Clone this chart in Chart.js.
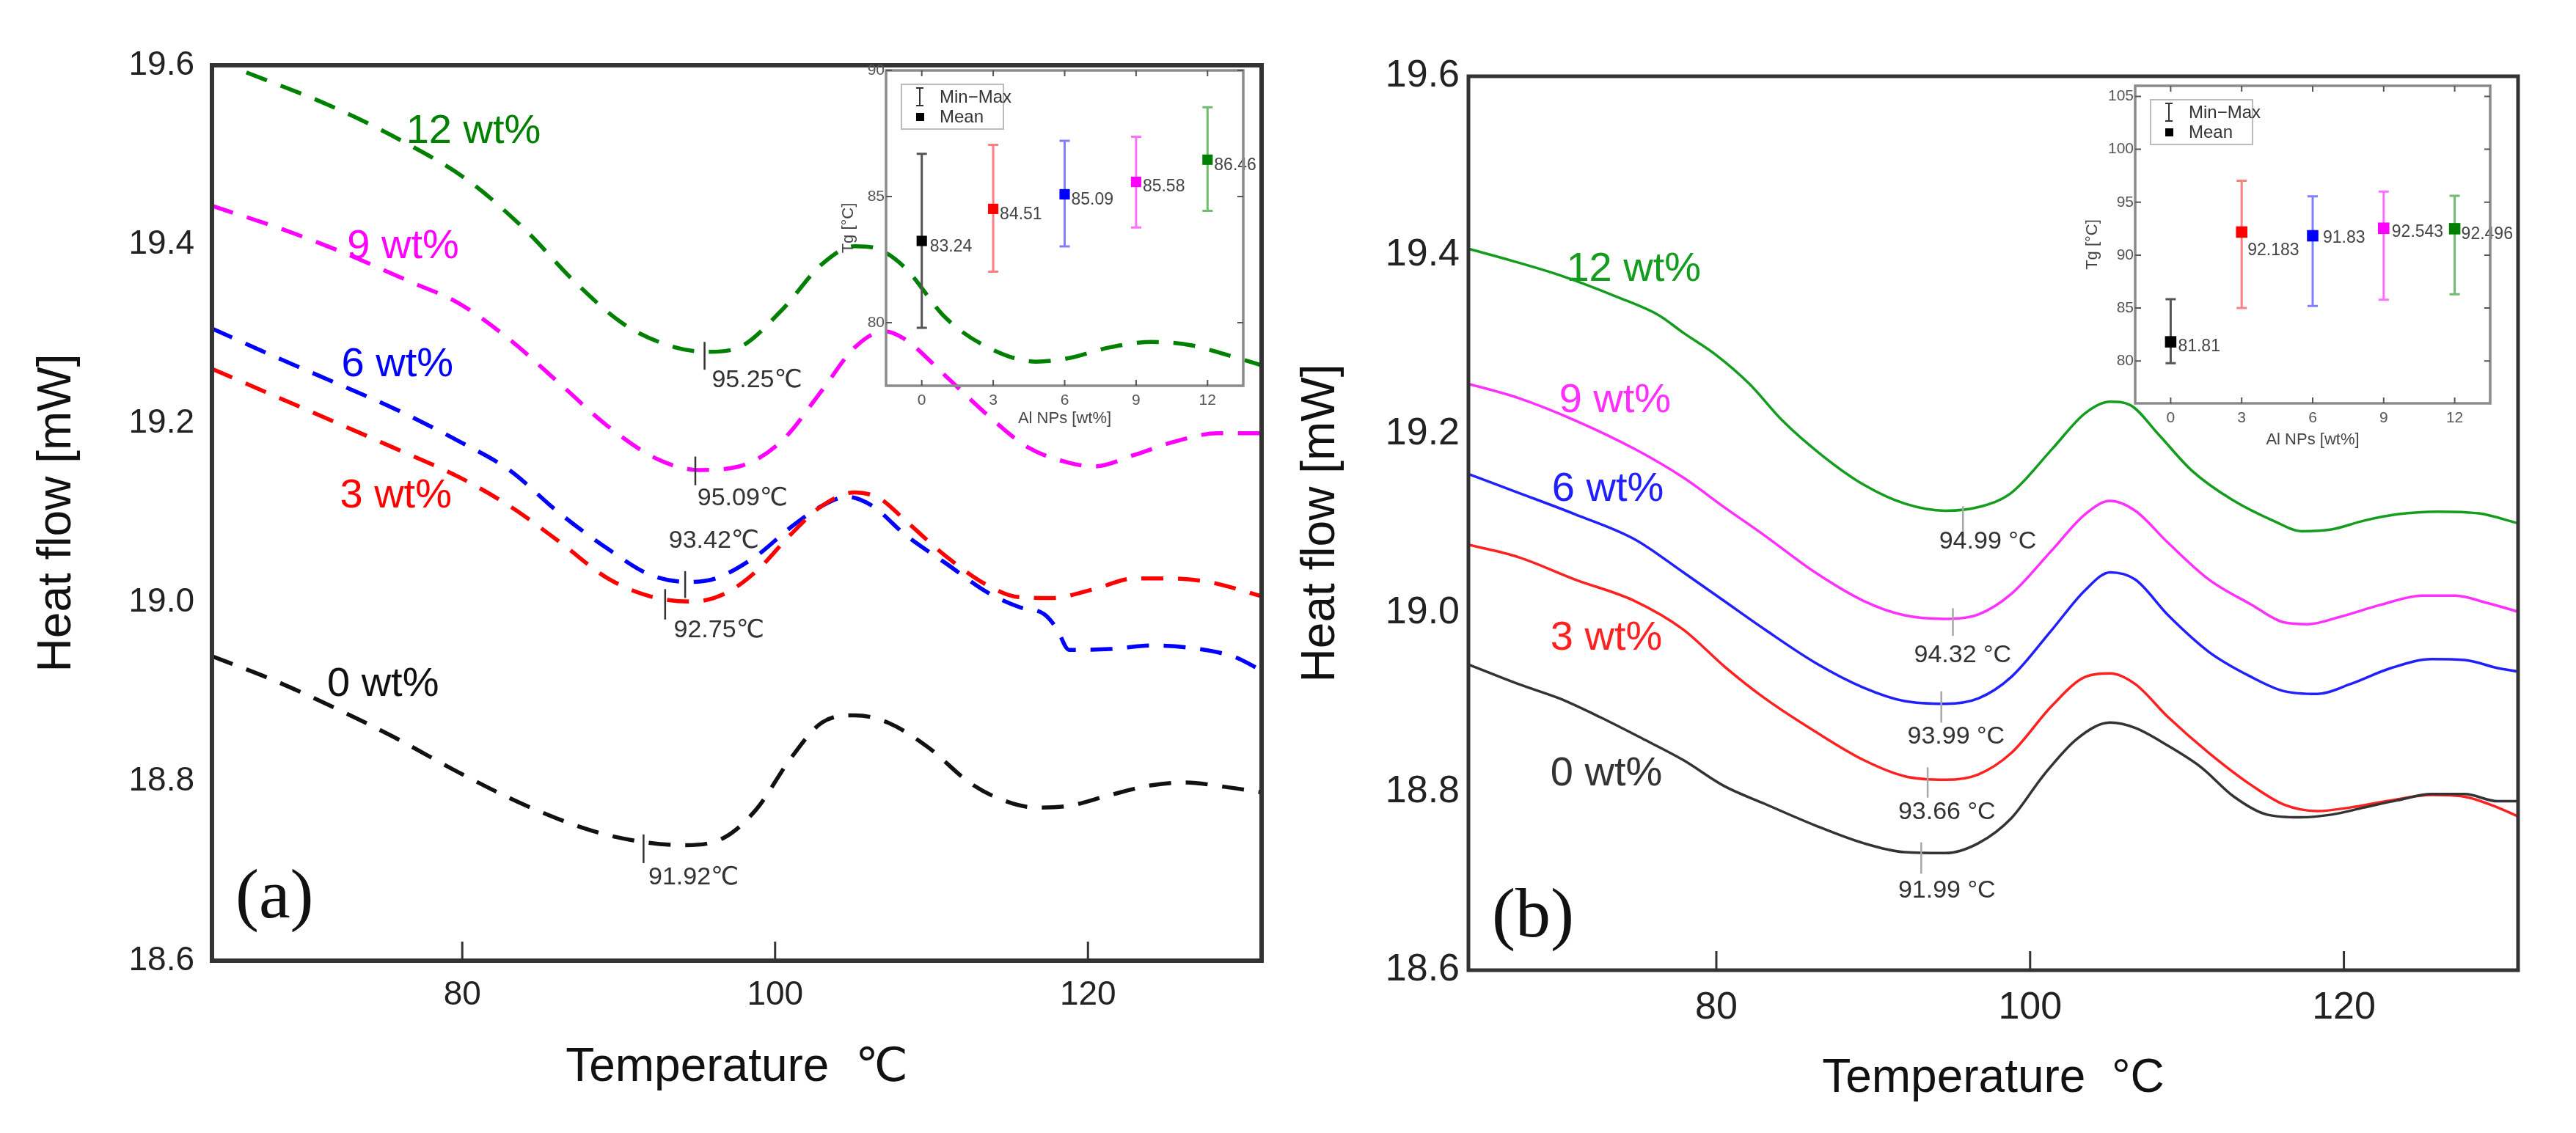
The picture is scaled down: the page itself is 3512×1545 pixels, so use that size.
<!DOCTYPE html>
<html>
<head>
<meta charset="utf-8">
<script src="https://cdn.jsdelivr.net/npm/chart.js@4.4.1/dist/chart.umd.min.js"></script>
<style>
  html, body { margin: 0; padding: 0; background: #fff; }
  #stage { position: relative; width: 3512px; height: 1545px; overflow: hidden; }
  canvas { position: absolute; }
</style>
</head>
<body>
<div id="stage">
  <canvas id="mainA" width="1756" height="1545" style="left:0;top:0"></canvas>
  <canvas id="insetA" width="600" height="540" style="left:1140px;top:60px"></canvas>
  <canvas id="mainB" width="1756" height="1545" style="left:1756px;top:0"></canvas>
  <canvas id="insetB" width="640" height="560" style="left:2840px;top:80px"></canvas>
</div>
<script>
const FONT = "'Liberation Sans', 'DejaVu Sans', Arial, sans-serif"

// ---- shared axis values ----
const seriesNames = ["0 wt%", "3 wt%", "6 wt%", "9 wt%", "12 wt%"]
const tempTicks = [80, 100, 120]
const heatTicks = [18.6, 18.8, 19.0, 19.2, 19.4, 19.6]
const insetCats = [0, 3, 6, 9, 12]
const insetTicksA = [80, 85, 90]
const insetTicksB = [80, 85, 90, 95, 100, 105]

// ---- panel (a): dashed DSC curves ----
const a0T = [64, 67.7, 71.4, 75.6, 79.8, 84.1, 88.3, 91.4, 94.1, 96.7, 98.8, 101, 103, 105.1, 107.2, 109.8, 112.5, 114.6, 116.7, 118.8, 121.4, 124.1, 126.2, 128.8, 131.1]
const a0H = [18.94, 18.915, 18.886, 18.85, 18.81, 18.773, 18.745, 18.733, 18.729, 18.737, 18.769, 18.826, 18.866, 18.874, 18.866, 18.838, 18.798, 18.779, 18.771, 18.773, 18.785, 18.796, 18.799, 18.794, 18.788]
const a3T = [64, 67.7, 71.4, 75.6, 79.8, 83, 86.2, 89.3, 92, 94.7, 96.8, 98.8, 101, 103, 105.1, 106.7, 108.3, 110.9, 113.6, 115.6, 117.7, 120.4, 123, 125.1, 127.7, 131.1]
const a3H = [19.261, 19.233, 19.205, 19.173, 19.14, 19.108, 19.068, 19.027, 19.007, 19.001, 19.01, 19.035, 19.076, 19.108, 19.123, 19.116, 19.092, 19.052, 19.019, 19.006, 19.005, 19.015, 19.027, 19.027, 19.023, 19.007]
const a6T = [64, 67.7, 71.4, 75.6, 79.8, 83, 86.2, 89.3, 92, 94.4, 96.2, 98.8, 101, 103, 104.6, 106.2, 108.3, 110.9, 113.6, 115.6, 117.2, 118, 118.8, 121.4, 124.1, 126.7, 129.4, 131.1]
const a6H = [19.306, 19.277, 19.249, 19.217, 19.18, 19.148, 19.1, 19.06, 19.031, 19.023, 19.027, 19.052, 19.084, 19.108, 19.118, 19.108, 19.076, 19.044, 19.011, 18.995, 18.987, 18.971, 18.947, 18.948, 18.952, 18.949, 18.939, 18.924]
const a9T = [64, 68.8, 72.5, 76.7, 79.8, 83, 86.2, 89.3, 92.5, 95.1, 97.7, 100.4, 103, 105.1, 107, 108.3, 110.9, 113.6, 116.2, 118.8, 120.4, 123, 125.6, 128.3, 131.1]
const a9H = [19.443, 19.415, 19.39, 19.358, 19.334, 19.294, 19.245, 19.197, 19.16, 19.148, 19.152, 19.18, 19.237, 19.285, 19.303, 19.294, 19.253, 19.209, 19.173, 19.156, 19.152, 19.165, 19.18, 19.189, 19.189]
const a12T = [66.2, 71.4, 76.2, 80.4, 84.1, 87.2, 90.4, 93.6, 95.7, 97.7, 100.4, 103, 105.1, 106.7, 108.3, 110.9, 113.6, 116.7, 118.8, 121.4, 124.1, 126.7, 128.8, 131.1]
const a12H = [19.592, 19.556, 19.515, 19.471, 19.415, 19.358, 19.31, 19.285, 19.28, 19.285, 19.326, 19.378, 19.398, 19.394, 19.374, 19.318, 19.285, 19.269, 19.273, 19.285, 19.291, 19.287, 19.277, 19.265]

// Tg markers (a): x, top, bottom of the short tick; label text and anchor
const tgMarkA = [[91.59, 18.741, 18.709], [92.97, 19.015, 18.981], [94.25, 19.035, 19.005], [94.9, 19.163, 19.131], [95.49, 19.291, 19.26]]
const tgTextA = ["91.92℃", "92.75℃", "93.42℃", "95.09℃", "95.25℃"]
const tgTextPosA = [[91.9, 18.693], [93.52, 18.969], [93.2, 19.069], [95.03, 19.116], [95.95, 19.248]]
const nameTextPosA = [[71.36, 18.908], [72.18, 19.119], [72.28, 19.265], [72.64, 19.397], [76.41, 19.526]]

// ---- panel (b): solid DSC curves ----
const b0T = [64.2, 67.4, 70, 72.6, 75.3, 77.9, 80.5, 83.1, 86.3, 89.4, 92, 94.6, 96.7, 98.8, 100.9, 103, 105.1, 106.7, 108.8, 110.9, 113, 115.1, 117.2, 119.2, 121.3, 123.4, 125.6, 127.7, 129.8, 131.1]
const b0H = [18.942, 18.92, 18.904, 18.883, 18.859, 18.835, 18.806, 18.786, 18.762, 18.742, 18.732, 18.731, 18.742, 18.77, 18.819, 18.859, 18.877, 18.871, 18.851, 18.827, 18.794, 18.774, 18.771, 18.774, 18.782, 18.79, 18.797, 18.797, 18.789, 18.789]
const b3T = [64.2, 67.4, 71, 74.8, 77.9, 80.5, 83.1, 86.3, 89.4, 92, 94.6, 96.7, 98.8, 101.4, 103.5, 105.1, 106.7, 108.8, 111.4, 114.1, 116.2, 118.3, 120.4, 123, 125.6, 127.7, 129.8, 131.1]
const b3H = [19.076, 19.062, 19.037, 19.013, 18.981, 18.94, 18.904, 18.867, 18.835, 18.817, 18.813, 18.819, 18.843, 18.896, 18.928, 18.932, 18.92, 18.883, 18.843, 18.807, 18.785, 18.778, 18.782, 18.79, 18.796, 18.794, 18.782, 18.772]
const b6T = [64.2, 67.4, 71, 74.8, 77.9, 80.5, 83.1, 86.3, 89.4, 92, 94.6, 96.7, 98.8, 101.4, 103.5, 105.1, 106.7, 108.8, 111.4, 114.1, 116.2, 118.3, 120.4, 123, 125.6, 127.7, 129.8, 131.1]
const b6H = [19.155, 19.134, 19.11, 19.082, 19.045, 19.013, 18.981, 18.944, 18.916, 18.901, 18.898, 18.904, 18.928, 18.981, 19.025, 19.045, 19.037, 18.997, 18.956, 18.928, 18.912, 18.909, 18.92, 18.938, 18.948, 18.947, 18.938, 18.934]
const b9T = [64.2, 67.4, 71, 74.8, 77.9, 80.5, 83.1, 86.3, 89.4, 92, 94.6, 96.7, 98.8, 101.4, 103.5, 105.1, 106.7, 108.8, 111.4, 114.1, 116.2, 117.7, 119.7, 122.4, 125, 127.1, 129.1, 131.1]
const b9H = [19.256, 19.24, 19.215, 19.183, 19.151, 19.118, 19.086, 19.045, 19.013, 18.997, 18.993, 18.998, 19.021, 19.07, 19.11, 19.125, 19.114, 19.078, 19.037, 19.009, 18.989, 18.987, 18.995, 19.009, 19.019, 19.019, 19.011, 19.001]
const b12T = [64.2, 66.9, 70.1, 73.7, 76.3, 77.9, 80, 82.1, 84.2, 86.8, 89.4, 92, 94.6, 96.7, 98.8, 101.4, 103.5, 105.1, 106.4, 108.2, 110.3, 112.9, 115.6, 117.3, 119.2, 121.3, 123.4, 126, 128.6, 131.1]
const b12H = [19.407, 19.394, 19.377, 19.353, 19.333, 19.313, 19.288, 19.256, 19.215, 19.175, 19.143, 19.122, 19.114, 19.118, 19.134, 19.183, 19.223, 19.236, 19.232, 19.199, 19.159, 19.126, 19.102, 19.091, 19.093, 19.103, 19.11, 19.113, 19.111, 19.1]

const tgMarkB = [[93.06, 18.743, 18.708], [93.47, 18.827, 18.793], [94.34, 18.912, 18.877], [95.08, 19.005, 18.974], [95.72, 19.119, 19.084]]
const tgTextB = ["91.99 °C", "93.66 °C", "93.99 °C", "94.32 °C", "94.99 °C"]
const tgTextPosB = [[91.59, 18.689], [91.59, 18.777], [92.18, 18.861], [92.6, 18.952], [94.2, 19.079]]
const nameTextPosB = [[69.43, 18.819], [69.43, 18.971], [69.52, 19.138], [69.98, 19.237], [70.44, 19.384]]

// ---- insets: Tg vs Al NPs ----
const tgMeanA = [83.24, 84.51, 85.09, 85.58, 86.46]
const tgMinA = [79.8, 82.02, 83.02, 83.77, 84.43]
const tgMaxA = [86.69, 87.05, 87.21, 87.37, 88.54]
const tgMeanB = [81.81, 92.183, 91.83, 92.543, 92.496]
const tgMinB = [79.8, 85.0, 85.2, 85.78, 86.3]
const tgMaxB = [85.84, 97.02, 95.56, 96.0, 95.6]

const colorsA = ["#111111", "#ff0000", "#0000ff", "#ff00ff", "#008000"]
const colorsB = ["#333333", "#ff2020", "#2020ff", "#ff30ff", "#149c1e"]
const meanColors = ["#000000", "#ff0000", "#0000ff", "#ff00ff", "#008000"]
const barColors = ["#555555", "#ff8080", "#8080ff", "#ff70ff", "#70bb70"]

function mainChart(id, p) {
    const decor = {
        id: "decor",
        afterDatasetsDraw(chart) {
            const { ctx, chartArea: a } = chart
            const x = chart.scales.x, y = chart.scales.y
            ctx.save()
            // Tg tick marks and labels
            ctx.strokeStyle = p.markColor
            ctx.lineWidth = 2.5
            p.marks.forEach((m) => {
                const px = x.getPixelForValue(m[0])
                ctx.beginPath()
                ctx.moveTo(px, y.getPixelForValue(m[1]))
                ctx.lineTo(px, y.getPixelForValue(m[2]))
                ctx.stroke()
            })
            ctx.fillStyle = "#333"
            ctx.font = "34px " + FONT
            ctx.textAlign = "left"
            ctx.textBaseline = "middle"
            p.marks.forEach((m, i) => {
                ctx.fillText(p.tgText[i], x.getPixelForValue(p.tgPos[i][0]), y.getPixelForValue(p.tgPos[i][1]))
            })
            // series names
            ctx.font = "56px " + FONT
            seriesNames.forEach((n, i) => {
                ctx.fillStyle = p.colors[i]
                ctx.fillText(n, x.getPixelForValue(p.namePos[i][0]), y.getPixelForValue(p.namePos[i][1]))
            })
            // panel letter
            ctx.fillStyle = "#111"
            ctx.font = "96px 'Liberation Serif', 'DejaVu Serif', serif"
            ctx.fillText(p.letter, a.left + 32, a.bottom - p.letterDy)
            // frame and inward ticks
            ctx.strokeStyle = "#333"
            ctx.lineWidth = p.frame
            ctx.strokeRect(a.left, a.top, a.right - a.left, a.bottom - a.top)
            ctx.lineWidth = 3
            tempTicks.forEach((v) => {
                const px = x.getPixelForValue(v)
                ctx.beginPath()
                ctx.moveTo(px, a.bottom)
                ctx.lineTo(px, a.bottom - 26)
                ctx.stroke()
            })
            ctx.restore()
        },
    }

    return new Chart(document.getElementById(id), {
        type: "line",
        data: {
            datasets: p.series.map((s, i) => ({
                data: s[0].map((t, k) => ({ x: t, y: s[1][k] })),
                borderColor: p.colors[i],
                borderWidth: p.lineWidth,
                borderDash: p.dash,
                pointRadius: 0,
                cubicInterpolationMode: "monotone",
                fill: false,
            })),
        },
        options: {
            responsive: false,
            animation: false,
            devicePixelRatio: 1,
            layout: { padding: { left: 0, top: p.top, right: p.right, bottom: 0 } },
            plugins: { legend: { display: false }, tooltip: { enabled: false } },
            scales: {
                x: {
                    type: "linear",
                    min: p.xMin,
                    max: p.xMax,
                    afterBuildTicks: (s) => { s.ticks = tempTicks.map((v) => ({ value: v })) },
                    afterFit: (s) => { s.height = p.xHeight },
                    grid: { display: false, drawTicks: false },
                    border: { display: false },
                    ticks: { font: { size: p.tickSize, family: FONT }, color: "#222", padding: 20, maxRotation: 0 },
                    title: { display: true, text: p.xTitle, font: { size: 64, family: FONT }, color: "#111", padding: { top: 0, bottom: p.xTitlePad } },
                },
                y: {
                    type: "linear",
                    min: 18.6,
                    max: 19.6,
                    afterBuildTicks: (s) => { s.ticks = heatTicks.map((v) => ({ value: v })) },
                    afterFit: (s) => { s.width = p.yWidth },
                    grid: { display: false, drawTicks: false },
                    border: { display: false },
                    ticks: { font: { size: p.tickSize, family: FONT }, color: "#222", padding: p.yTickPad, callback: (v) => v.toFixed(1) },
                    title: { display: true, text: "Heat flow [mW]", font: { size: 64, family: FONT }, color: "#111", padding: { top: p.yTitlePad, bottom: 0 } },
                },
            },
        },
        plugins: [decor],
    })
}

function insetChart(id, p) {
    const extras = {
        id: "extras",
        beforeDatasetsDraw(chart) {
            const { ctx } = chart
            const x = chart.scales.x, y = chart.scales.y
            ctx.save()
            ctx.lineWidth = 3
            insetCats.forEach((c, i) => {
                const px = x.getPixelForValue(c)
                const y1 = y.getPixelForValue(p.max[i])
                const y2 = y.getPixelForValue(p.min[i])
                ctx.strokeStyle = barColors[i]
                ctx.beginPath()
                ctx.moveTo(px, y1); ctx.lineTo(px, y2)
                ctx.moveTo(px - 7, y1); ctx.lineTo(px + 7, y1)
                ctx.moveTo(px - 7, y2); ctx.lineTo(px + 7, y2)
                ctx.stroke()
            })
            ctx.restore()
        },
        afterDatasetsDraw(chart) {
            const { ctx, chartArea: a } = chart
            const x = chart.scales.x, y = chart.scales.y
            ctx.save()
            // value labels
            ctx.fillStyle = "#444"
            ctx.font = "23px " + FONT
            ctx.textAlign = "left"
            ctx.textBaseline = "middle"
            insetCats.forEach((c, i) => {
                ctx.fillText(String(p.mean[i]), x.getPixelForValue(c) + p.labelOff[i][0], y.getPixelForValue(p.mean[i]) + p.labelOff[i][1])
            })
            // frame with inward ticks on all sides
            ctx.strokeStyle = "#8a8a8a"
            ctx.lineWidth = 3.5
            ctx.strokeRect(a.left, a.top, a.right - a.left, a.bottom - a.top)
            ctx.strokeStyle = "#555"
            ctx.lineWidth = 2
            ctx.beginPath()
            insetCats.forEach((c) => {
                const px = x.getPixelForValue(c)
                ctx.moveTo(px, a.bottom); ctx.lineTo(px, a.bottom - 8)
                ctx.moveTo(px, a.top); ctx.lineTo(px, a.top + 8)
            })
            p.yTicks.forEach((v) => {
                const py = y.getPixelForValue(v)
                ctx.moveTo(a.left, py); ctx.lineTo(a.left + 8, py)
                ctx.moveTo(a.right, py); ctx.lineTo(a.right - 8, py)
            })
            ctx.stroke()
            // legend
            const lx = a.left + 21, ly = a.top + 19
            ctx.fillStyle = "#fff"
            ctx.fillRect(lx, ly, 139, 61)
            ctx.strokeStyle = "#bbb"
            ctx.lineWidth = 2
            ctx.strokeRect(lx, ly, 139, 61)
            ctx.strokeStyle = "#333"
            ctx.beginPath()
            ctx.moveTo(lx + 25, ly + 5); ctx.lineTo(lx + 25, ly + 29)
            ctx.moveTo(lx + 20, ly + 5); ctx.lineTo(lx + 30, ly + 5)
            ctx.moveTo(lx + 20, ly + 29); ctx.lineTo(lx + 30, ly + 29)
            ctx.stroke()
            ctx.fillStyle = "#000"
            ctx.fillRect(lx + 20, ly + 39, 11, 11)
            ctx.fillStyle = "#333"
            ctx.font = "24px " + FONT
            ctx.fillText("Min\u2212Max", lx + 52, ly + 18)
            ctx.fillText("Mean", lx + 52, ly + 45)
            ctx.restore()
        },
    }

    return new Chart(document.getElementById(id), {
        type: "scatter",
        data: {
            datasets: [{
                data: insetCats.map((c, i) => ({ x: c, y: p.mean[i] })),
                pointStyle: "rect",
                pointRadius: p.radius,
                pointBackgroundColor: meanColors,
                pointBorderColor: meanColors,
                pointBorderWidth: 0,
            }],
        },
        options: {
            responsive: false,
            animation: false,
            devicePixelRatio: 1,
            layout: { padding: { left: 0, top: p.top, right: p.right, bottom: 0 } },
            plugins: { legend: { display: false }, tooltip: { enabled: false } },
            scales: {
                x: {
                    type: "linear",
                    min: -1.5,
                    max: 13.5,
                    afterBuildTicks: (s) => { s.ticks = insetCats.map((v) => ({ value: v })) },
                    afterFit: (s) => { s.height = p.xHeight },
                    grid: { display: false, drawTicks: false },
                    border: { display: false },
                    ticks: { font: { size: 21, family: FONT }, color: "#555", padding: 8, maxRotation: 0 },
                    title: { display: true, text: "Al NPs [wt%]", font: { size: 22, family: FONT }, color: "#444", padding: { top: 0, bottom: p.xTitlePad } },
                },
                y: {
                    type: "linear",
                    min: p.yMin,
                    max: p.yMax,
                    afterBuildTicks: (s) => { s.ticks = p.yTicks.map((v) => ({ value: v })) },
                    afterFit: (s) => { s.width = p.yWidth },
                    grid: { display: false, drawTicks: false },
                    border: { display: false },
                    ticks: { font: { size: 21, family: FONT }, color: "#555", padding: 2 },
                    title: { display: true, text: "Tg [°C]", font: { size: 22, family: FONT }, color: "#444", padding: { top: p.yTitlePad, bottom: 0 } },
                },
            },
        },
        plugins: [extras],
    })
}

mainChart("mainA", {
    series: [[a0T, a0H], [a3T, a3H], [a6T, a6H], [a9T, a9H], [a12T, a12H]],
    colors: colorsA, lineWidth: 5.5, dash: [30, 20], frame: 6,
    marks: tgMarkA, tgText: tgTextA, tgPos: tgTextPosA, namePos: nameTextPosA, markColor: "#333",
    letter: "(a)", letterDy: 84, tickSize: 46,
    xMin: 64, xMax: 131.1, top: 89, right: 36, xHeight: 235, yWidth: 289,
    yTickPad: 24, yTitlePad: 40, xTitle: "Temperature  ℃", xTitlePad: 50,
})

mainChart("mainB", {
    series: [[b0T, b0H], [b3T, b3H], [b6T, b6H], [b9T, b9H], [b12T, b12H]],
    colors: colorsB, lineWidth: 3.5, dash: [], frame: 5,
    marks: tgMarkB, tgText: tgTextB, tgPos: tgTextPosB, namePos: nameTextPosB, markColor: "#a8a8a8",
    letter: "(b)", letterDy: 71, tickSize: 52,
    xMin: 64.2, xMax: 131.1, top: 104, right: 79, xHeight: 222, yWidth: 246,
    yTickPad: 12, yTitlePad: 7, xTitle: "Temperature  °C", xTitlePad: 35,
})

insetChart("insetA", {
    mean: tgMeanA, min: tgMinA, max: tgMaxA, yMin: 77.5, yMax: 90, yTicks: insetTicksA,
    radius: 10, labelOff: [[11, 8], [9, 8], [9, 8], [9, 7], [9, 8]],
    top: 36, right: 45, xHeight: 74, yWidth: 68, xTitlePad: 16, yTitlePad: 4,
})

insetChart("insetB", {
    mean: tgMeanB, min: tgMinB, max: tgMaxB, yMin: 76, yMax: 106, yTicks: insetTicksB,
    radius: 11, labelOff: [[10, 7], [8, 25], [14, 3], [11, 5], [9, 8]],
    top: 37, right: 85, xHeight: 90, yWidth: 71, xTitlePad: 27, yTitlePad: 0,
})
</script>
</body>
</html>
